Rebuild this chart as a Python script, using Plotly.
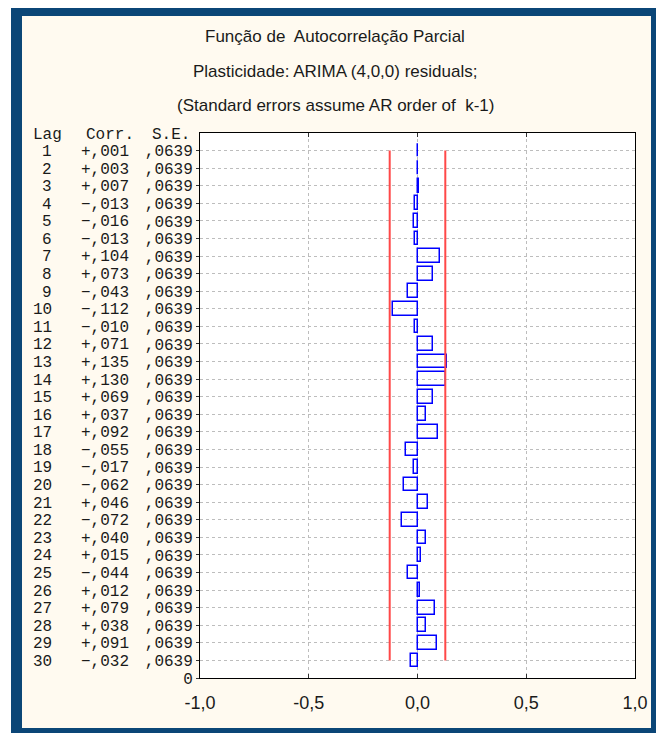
import plotly.graph_objects as go

# ---------------- data ----------------
lags = list(range(1, 31))
corr = [0.001, 0.003, 0.007, -0.013, -0.016, -0.013, 0.104, 0.073, -0.043, -0.112,
        -0.010, 0.071, 0.135, 0.130, 0.069, 0.037, 0.092, -0.055, -0.017, -0.062,
        0.046, -0.072, 0.040, 0.015, -0.044, 0.012, 0.079, 0.038, 0.091, -0.032]
se = [0.0639] * 30
x_tickvals = [-1.0, -0.5, 0.0, 0.5, 1.0]
x_ticktext = ["-1,0", "-0,5", "0,0", "0,5", "1,0"]
title_lines = ["Função de  Autocorrelação Parcial",
               "Plasticidade: ARIMA (4,0,0) residuals;",
               "(Standard errors assume AR order of  k-1)"]
header = ["Lag", "Corr.", "S.E."]


def fmt_corr(v):
    s = f"{abs(v):.3f}"[1:].replace(".", ",")
    return ("+" if v >= 0 else "−") + s


def fmt_se(v):
    return f"{v:.4f}"[1:].replace(".", ",")


# ---------------- geometry (page pixels; page body has an 8px margin) ----------------
OFF = 8
W, H = 664 - OFF, 733 - OFF
PL, PR, PT, PB = 200, 635, 133, 678          # plot area on the page
L, R, T, B = PL - OFF, W - (PR - OFF), PT - OFF, H - (PB - OFF)
PW, PH = PR - PL, PB - PT


def px(xp):
    return (xp - PL) / PW


def py(yp):
    return (PB - yp) / PH


mono = "Liberation Mono, Courier New, monospace"
sans = "Liberation Sans, Arial, sans-serif"
txt_col = "#1a1a1a"
MS = 16

fig = go.Figure()

fig.add_trace(go.Bar(
    x=corr, y=lags, orientation="h", width=0.78,
    marker=dict(color="rgba(255,255,255,0)", line=dict(color="#0000ff", width=1.5)),
    showlegend=False, hoverinfo="skip"))

lim = 2 * se[0]
for sgn in (-1, 1):
    fig.add_trace(go.Scatter(
        x=[sgn * lim, sgn * lim], y=[lags[0], lags[-1]], mode="lines",
        line=dict(color="#ff4848", width=2), showlegend=False, hoverinfo="skip"))

# frame / backgrounds
shapes = [
    dict(type="rect", xref="paper", yref="paper", x0=px(11), x1=px(661), y0=py(0), y1=py(745),
         fillcolor="#0b4677", line_width=0, layer="below"),
    dict(type="rect", xref="paper", yref="paper", x0=px(22), x1=px(651), y0=py(16), y1=py(728),
         fillcolor="#fffaf0", line_width=0, layer="below"),
    dict(type="rect", xref="paper", yref="paper", x0=0, x1=1, y0=0, y1=1,
         fillcolor="white", line_width=0, layer="below"),
]

annotations = []
for i, t in enumerate(title_lines):
    annotations.append(dict(text=t, xref="paper", yref="paper", x=px(335), y=py([36, 71, 106][i]),
                            xanchor="center", yanchor="middle", showarrow=False,
                            font=dict(family=sans, size=17, color=txt_col)))

# header row
hy = 0.12
annotations.append(dict(text=header[0], xref="paper", yref="y", x=px(47), y=hy,
                        xanchor="center", yanchor="middle", showarrow=False,
                        font=dict(family=mono, size=MS, color=txt_col)))
annotations.append(dict(text=header[1], xref="paper", yref="y", x=px(136), y=hy,
                        xanchor="right", yanchor="middle", showarrow=False,
                        font=dict(family=mono, size=MS, color=txt_col)))
annotations.append(dict(text=header[2], xref="paper", yref="y", x=px(192), y=hy,
                        xanchor="right", yanchor="middle", showarrow=False,
                        font=dict(family=mono, size=MS, color=txt_col)))

for lag, c in zip(lags, corr):
    annotations.append(dict(text=str(lag), xref="paper", yref="y", x=px(54), y=lag + 0.08,
                            xanchor="right", yanchor="middle", showarrow=False,
                            font=dict(family=mono, size=MS, color=txt_col)))
    annotations.append(dict(text=fmt_corr(c), xref="paper", yref="y", x=px(131), y=lag + 0.08,
                            xanchor="right", yanchor="middle", showarrow=False,
                            font=dict(family=mono, size=MS, color=txt_col)))

fig.update_layout(
    width=W, height=H,
    margin=dict(l=L, r=R, t=T, b=B, pad=0),
    paper_bgcolor="white", plot_bgcolor="white",
    shapes=shapes, annotations=annotations,
    bargap=0,
)

fig.update_xaxes(
    range=[-1, 1], tickvals=x_tickvals, ticktext=x_ticktext,
    showgrid=True, gridcolor="#bdbdbd", griddash="dot", gridwidth=1,
    zeroline=False, showline=True, linecolor="black", linewidth=1, mirror="ticks",
    ticks="inside", ticklen=4, tickcolor="#333",
    tickfont=dict(family=sans, size=18, color=txt_col), ticklabelstandoff=8,
)

fig.update_yaxes(
    range=[31, 0], tickvals=lags + [31], ticktext=[fmt_se(v) for v in se] + ["0"],
    showgrid=True, gridcolor="#bdbdbd", griddash="dot", gridwidth=1,
    zeroline=False, showline=True, linecolor="black", linewidth=1, mirror=True,
    ticks="outside", ticklen=3, tickcolor="#333",
    tickfont=dict(family=mono, size=MS, color=txt_col), ticklabelstandoff=0,
)

fig.write_html("out.html")
